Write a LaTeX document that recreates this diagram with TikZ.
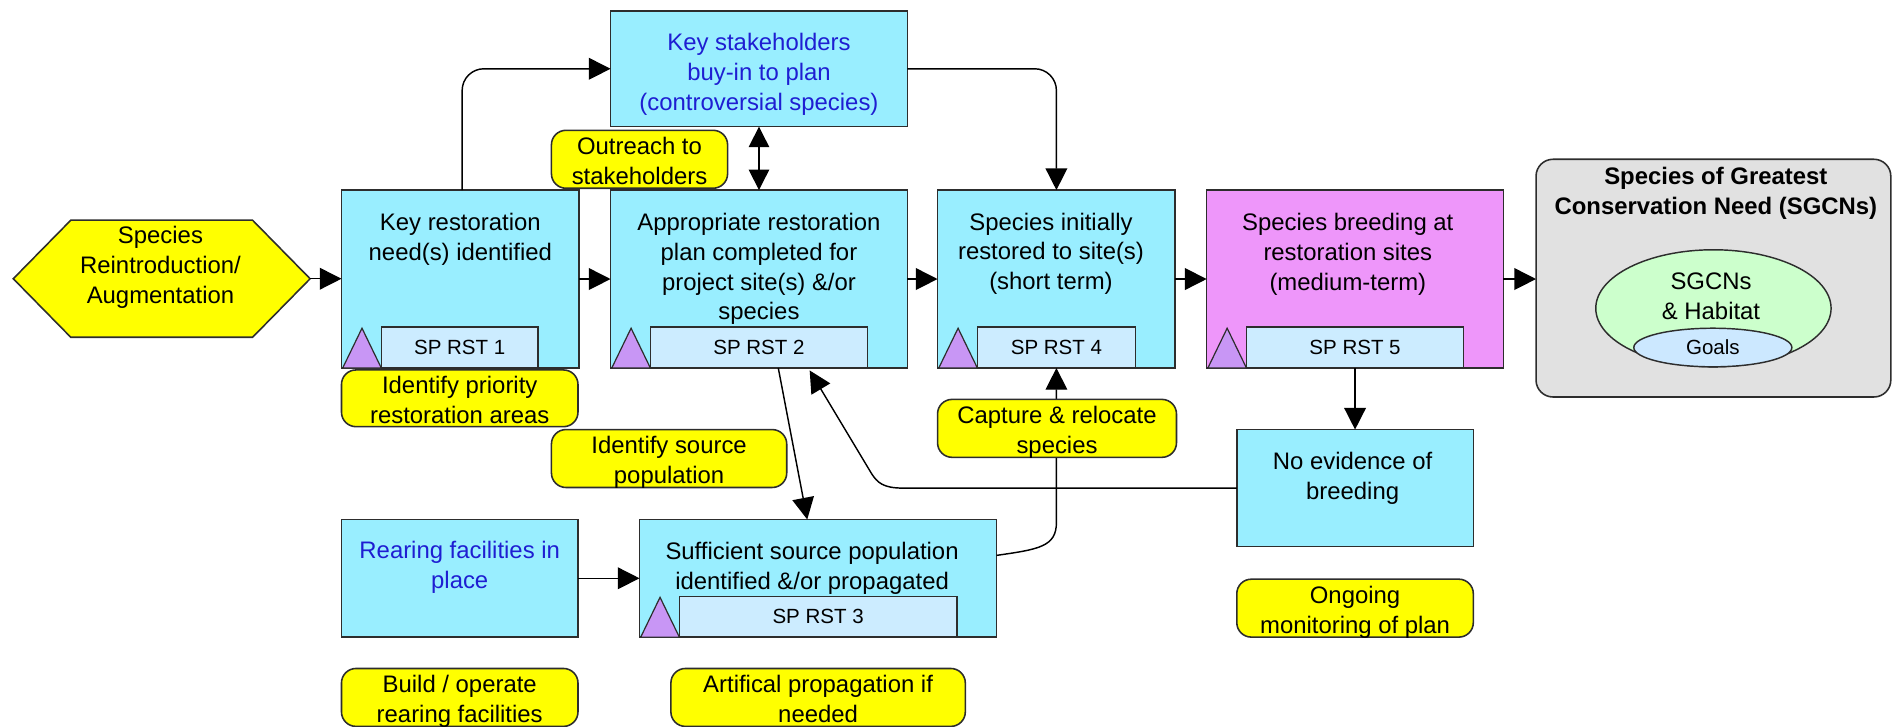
\documentclass[tikz,border=0pt]{standalone}
\usepackage{fontspec}
\setmainfont{Liberation Sans}
\usetikzlibrary{arrows.meta,calc,fit,shapes.symbols,shapes.geometric}
\definecolor{cyanbox}{RGB}{153,238,255}
\definecolor{magbox}{RGB}{238,150,250}
\definecolor{rstbox}{RGB}{204,236,255}
\definecolor{trifill}{RGB}{200,150,245}
\definecolor{yel}{RGB}{255,255,0}
\definecolor{graybox}{RGB}{225,225,225}
\definecolor{greenell}{RGB}{204,255,204}
\definecolor{goalsell}{RGB}{204,232,255}
\definecolor{bluetxt}{RGB}{30,30,210}
\definecolor{edge}{RGB}{45,45,45}
\begin{document}
\begin{tikzpicture}[x=1pt,y=-1pt,
  every node/.style={font=\fontsize{19.8}{24.8}\selectfont, inner sep=0pt, outer sep=0pt},
  cbox/.style={draw=edge, line width=1.3pt, fill=cyanbox, rectangle},
  mbox/.style={cbox, fill=magbox},
  rstb/.style={draw=edge, line width=1.3pt, fill=rstbox, rectangle, font=\fontsize{17}{20}\selectfont},
  ybox/.style={draw=edge, line width=1.3pt, fill=yel, rounded corners=12},
  txt/.style={align=center, yshift=-2pt, execute at begin node=\strut, execute at end node=\strut},
  ytxt/.style={txt, yshift=-2.8pt},
  tri/.style={draw=edge, line width=1pt, fill=trifill},
  conn/.style={draw=black, line width=1.2pt, -{Triangle[length=18pt,width=18pt]}},
  conn2/.style={draw=black, line width=1.2pt, {Triangle[length=17pt,width=17pt]}-{Triangle[length=17pt,width=17pt]}}
]
\useasboundingbox (0,0) rectangle (1568,602);

% start hexagon
\node[signal, signal to=west and east, signal pointer angle=91, draw=edge, line width=1.3pt, fill=yel,
  minimum width=246, minimum height=97] (hex) at (134,231) {};
\node[txt] (hexT) at (133,221.2) {Species\\Reintroduction/\\Augmentation};

% main boxes
\node[cbox, fit={(283,157.5) (480,305)}] (keyrest) {};
\node[txt] (keyrestT) at (381.5,197.8) {Key restoration\\need(s) identified};
\draw[tri] (284,305) -- (300,272) -- (316,305) -- cycle;
\node[rstb, fit={(316,271) (446,305)}, label={[rstb,draw=none,fill=none]center:SP RST 1}] (rst1) {};

\node[cbox, fit={(506,9) (752,105)}] (stake) {};
\node[txt, text=bluetxt] (stakeT) at (629,61) {Key stakeholders\\buy-in to plan\\(controversial species)};

\node[cbox, fit={(506,157.5) (752,305)}] (appro) {};
\node[txt] (approT) at (629,222.5) {Appropriate restoration\\plan completed for\\project site(s) \&/or\\species};
\draw[tri] (507,305) -- (523,272) -- (539,305) -- cycle;
\node[rstb, fit={(539,271) (719,305)}, label={[rstb,draw=none,fill=none]center:SP RST 2}] (rst2) {};

\node[cbox, fit={(777,157.5) (974,305)}] (init) {};
\node[txt] (initT) at (871,210) {Species initially\\restored to site(s)\\(short term)};
\draw[tri] (778,305) -- (794,272) -- (810,305) -- cycle;
\node[rstb, fit={(810,271) (941,305)}, label={[rstb,draw=none,fill=none]center:SP RST 4}] (rst4) {};

\node[mbox, fit={(1000,157.5) (1246,305)}] (breed) {};
\node[txt] (breedT) at (1117,210.1) {Species breeding at\\restoration sites\\(medium-term)};
\draw[tri] (1001,305) -- (1017,272) -- (1033,305) -- cycle;
\node[rstb, fit={(1033,271) (1213,305)}, label={[rstb,draw=none,fill=none]center:SP RST 5}] (rst5) {};

\node[draw=edge, line width=1.3pt, fill=graybox, rounded corners=14, fit={(1273,132) (1567,329)}] (sgcn) {};
\node[txt, font=\fontsize{19.8}{24.8}\selectfont\bfseries] (sgcnT) at (1422,159.5) {Species of Greatest\\Conservation Need (SGCNs)};
\node[ellipse, draw=edge, line width=1.2pt, fill=greenell, minimum width=195, minimum height=97] (hab) at (1420,255.5) {};
\node[txt] (habT) at (1418,247) {SGCNs\\\& Habitat};
\node[ellipse, draw=edge, line width=1.2pt, fill=goalsell, minimum width=131, minimum height=32,
  font=\fontsize{17}{20}\selectfont] (goals) at (1419.5,288) {Goals};

\node[cbox, fit={(1025,356) (1221,453)}] (noev) {};
\node[txt] (noevT) at (1121,396) {No evidence of\\breeding};

\node[cbox, fit={(283,430.5) (479,528)}] (rear) {};
\node[txt, text=bluetxt] (rearT) at (381,470) {Rearing facilities in\\place};

\node[cbox, fit={(530,430.5) (826,528)}] (suff) {};
\node[txt] (suffT) at (673,470.3) {Sufficient source population\\identified \&/or propagated};
\draw[tri] (531,528) -- (547,495) -- (563,528) -- cycle;
\node[rstb, fit={(563,494.5) (793,528)}, label={[rstb,draw=none,fill=none]center:SP RST 3}] (rst3) {};

% connectors
\draw[conn] (hex.east) -- (hex.east -| keyrest.west);
\draw[conn] (keyrest.east) -- (keyrest.east -| appro.west);
\draw[conn] (appro.east) -- (appro.east -| init.west);
\draw[conn] (init.east) -- (init.east -| breed.west);
\draw[conn] (breed.east) -- (breed.east -| sgcn.west);
\draw[conn, rounded corners=18] ($(keyrest.north)+(1.5,0)$) |- (stake.west);
\draw[conn, rounded corners=18] (stake.east) -| (init.north);
\draw[conn2] (stake.south) -- (appro.north);
\draw[conn] (rst5.south) -- (rst5.south |- noev.north);
\draw[conn] (rear.east) -- (rear.east -| suff.west);
\draw[conn] ($(rst2.south)+(16,0)$) -- ($(suff.north)+(-9,0)$);
\draw[conn] (noev.west) -- ($(noev.west)+(-277,0)$) .. controls +(-16,0) and +(5,8) .. ($(rst2.south)+(93,87)$) -- ($(rst2.south)+(42,2)$);
\draw[conn] ($(suff.east)+(0,-19)$) .. controls +(35,-5) and +(0,20) .. ($(rst4.south)+(0,128)$) -- (rst4.south);

% yellow activity boxes
\node[ybox, fit={(457,108) (603,156)}] (outr) {};
\node[ytxt] (outrT) at (outr.center) {Outreach to\\stakeholders};
\node[ybox, fit={(283,306.6) (479,353.6)}] (prior) {};
\node[ytxt] (priorT) at (prior.center) {Identify priority\\restoration areas};
\node[ybox, fit={(457,356) (652,404)}] (src) {};
\node[ytxt] (srcT) at (src.center) {Identify source\\population};
\node[ybox, fit={(777,331) (975,379)}] (capt) {};
\node[ytxt] (captT) at (capt.center) {Capture \& relocate\\species};
\node[ybox, fit={(1025,480) (1221,528)}] (ongo) {};
\node[ytxt] (ongoT) at (ongo.center) {Ongoing\\monitoring of plan};
\node[ybox, fit={(283,554) (479,602)}] (build) {};
\node[ytxt] (buildT) at (build.center) {Build / operate\\rearing facilities};
\node[ybox, fit={(556,554) (800,602)}] (artif) {};
\node[ytxt] (artifT) at (artif.center) {Artifical propagation if\\needed};
\end{tikzpicture}
\end{document}
